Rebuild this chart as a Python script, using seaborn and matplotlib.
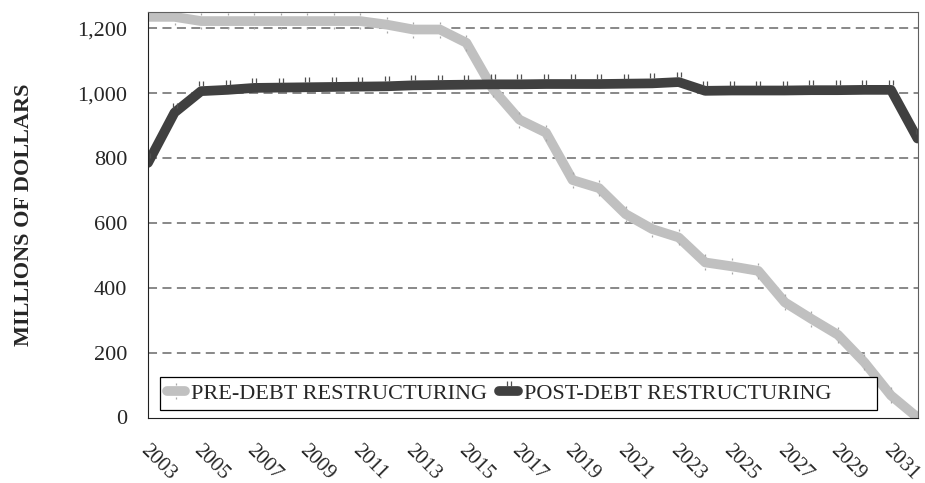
import matplotlib
matplotlib.use("Agg")
import matplotlib.pyplot as plt
from matplotlib.path import Path
from matplotlib.patches import Rectangle
from matplotlib.transforms import ScaledTranslation
import seaborn as sns
import pandas as pd

years = list(range(2003, 2033))
pre_debt = [1235, 1235, 1222, 1222, 1222, 1222, 1222, 1222, 1222, 1211,
            1196, 1196, 1155, 1012, 918, 878, 732, 707, 627, 581,
            555, 478, 466, 452, 355, 304, 255, 170, 68, 0]
post_debt = [785, 940, 1006, 1010, 1016, 1017, 1018, 1019, 1020, 1021,
             1024, 1025, 1026, 1027, 1027, 1028, 1028, 1028, 1029, 1030,
             1034, 1007, 1008, 1008, 1008, 1009, 1009, 1010, 1010, 860]
series_names = ["PRE-DEBT RESTRUCTURING", "POST-DEBT RESTRUCTURING"]
y_ticks = [0, 200, 400, 600, 800, 1000, 1200]

pre_df = pd.DataFrame({"idx": range(len(years)), "value": pre_debt})
post_df = pd.DataFrame({"idx": range(len(years)), "value": post_debt})

sns.set_style("white")
plt.rcParams["font.family"] = ["Liberation Serif", "DejaVu Serif"]

# small Excel-like marker artifacts
pre_marker = Path([(0, 0.75), (0, 1.0), (0, -1.0), (0, -0.75)],
                  [Path.MOVETO, Path.LINETO, Path.MOVETO, Path.LINETO])
post_marker = Path([(-0.16, 0.5), (-0.16, 1.0), (0.16, 0.5), (0.16, 1.0),
                    (0, -1.0), (0, -1.0)],
                   [Path.MOVETO, Path.LINETO, Path.MOVETO, Path.LINETO,
                    Path.MOVETO, Path.LINETO])

fig = plt.figure(figsize=(9.25, 4.83), dpi=100)
ax = fig.add_axes([148 / 925, 1 - 417.5 / 483, (917.5 - 148) / 925, (417.5 - 12) / 483])

LW = 7.0
sns.lineplot(data=pre_df, x="idx", y="value", color="#c0c0c0", linewidth=LW,
             label=series_names[0], ax=ax, solid_capstyle="round", solid_joinstyle="round",
             marker=pre_marker, markersize=11, markeredgecolor="#a8a8a8",
             markeredgewidth=0.9, markerfacecolor="none")
sns.lineplot(data=post_df, x="idx", y="value", color="#404040", linewidth=LW,
             label=series_names[1], ax=ax, solid_capstyle="round", solid_joinstyle="round",
             marker=post_marker, markersize=14, markeredgecolor="#505050",
             markeredgewidth=0.9, markerfacecolor="none")

ax.set_xlim(0, len(years) - 1)
ax.set_ylim(0, 1250)
ax.set_yticks(y_ticks)
ax.set_yticklabels([f"{v:,}" for v in y_ticks], fontsize=16)
for v in y_ticks[1:]:
    ax.axhline(v, color="#7f7f7f", lw=1.3, dashes=(5, 3), zorder=0)

ax.set_xticks(list(range(len(years))))
ax.set_xticklabels([str(y) if i % 2 == 0 else "" for i, y in enumerate(years)],
                   rotation=-45, ha="left", va="center", rotation_mode="anchor",
                   fontsize=15)
ax.tick_params(axis="x", direction="out", length=9, width=0.8, color="#404040", pad=10)
ax.tick_params(axis="y", direction="out", length=8, width=0.8, color="#404040", pad=7)
shift = ScaledTranslation(-5 / 100, -4 / 100, fig.dpi_scale_trans)
for lab in ax.get_xticklabels():
    lab.set_transform(lab.get_transform() + shift)
ax.set_xlabel("")
ax.set_ylabel("MILLIONS OF DOLLARS", fontsize=16, fontweight="bold", labelpad=31)

for s in ["left", "bottom"]:
    ax.spines[s].set_color("#202020")
    ax.spines[s].set_linewidth(0.8)
for s in ["top", "right"]:
    ax.spines[s].set_color("#606060")
    ax.spines[s].set_linewidth(0.8)

W, H = 769.5, 405.5
leg = ax.legend(loc="center left", bbox_to_anchor=((166.5 - 148) / W, (417.5 - 393.5) / H),
                ncol=2, fontsize=16, frameon=False,
                handlelength=0.85, handletextpad=0.25, columnspacing=0.55,
                borderpad=0, borderaxespad=0)
for line in leg.get_lines():
    line.set_linewidth(LW)
    line.set_solid_capstyle("round")

ax.add_patch(Rectangle(((160 - 148) / W, (417.5 - 410) / H), (877 - 160) / W, 33 / H,
                       transform=ax.transAxes, facecolor="white", edgecolor="#000000",
                       linewidth=0.9, zorder=4))
leg.set_zorder(5)

fig.savefig("out.png", dpi=100)
